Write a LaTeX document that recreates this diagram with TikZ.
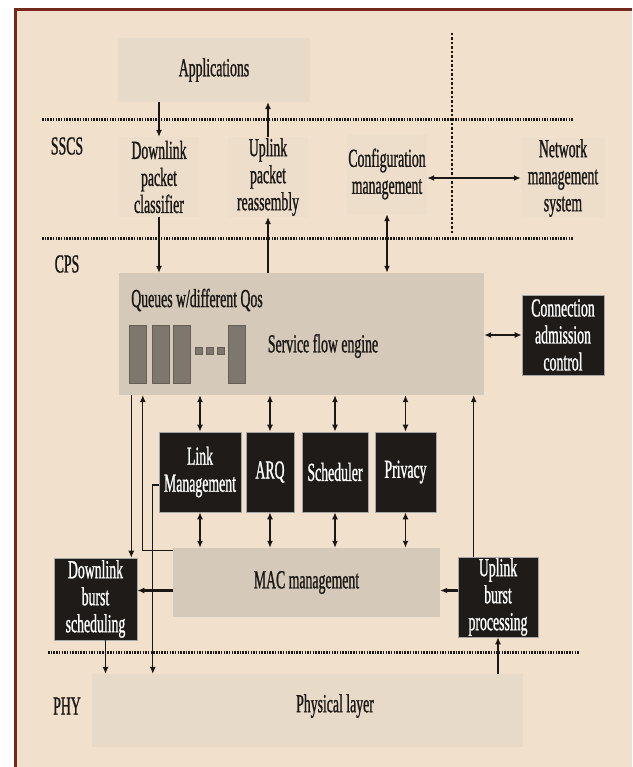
\documentclass[tikz,border=0pt]{standalone}
\usepackage{fontspec}
\setmainfont{Liberation Serif}[FakeStretch=0.53,FakeBold=0.9]
\usetikzlibrary{arrows.meta}

\definecolor{paper}{HTML}{F1E0CB}
\definecolor{frame}{HTML}{74291F}
\definecolor{faintbox}{HTML}{EDDECB}
\definecolor{softbox}{HTML}{E8DAC8}
\definecolor{greybox}{HTML}{D5CABA}
\definecolor{queuefill}{HTML}{7E776E}
\definecolor{blackbox}{HTML}{1E1B18}
\definecolor{ink}{HTML}{1A1714}

\begin{document}
\begin{tikzpicture}[x=1pt,y=-1pt,font=\fontsize{26}{27}\selectfont,
    layersep/.style={ink,line width=3pt,dash pattern=on 1.5pt off 1.2pt},
    colsep/.style={ink,line width=1.4pt,dash pattern=on 2.5pt off 2pt},
    tip/.tip={Latex[length=7pt,width=6pt]}]

      \useasboundingbox (0,0) rectangle (632,767);
      \fill[white] (0,0) rectangle (632,767);
      \fill[paper] (15,10) rectangle (632,767);
      \draw[frame,line width=3pt] (15,767) -- (15,10) -- (632,10);

      % layer separators
      \draw[layersep] (42,120) -- (573,120);
      \draw[layersep] (42,238) -- (573,238);
      \draw[layersep] (48,652) -- (579,652);
      \draw[colsep] (452,33) -- (452,233);

      \begin{scope}[every node/.style={text=ink}]
        \node (sscs)     at (67,146) {SSCS};
        \node (cps)      at (67,264) {CPS};
        \node (phylabel) at (67,706) {PHY};
      \end{scope}

      % light boxes
      \begin{scope}[every node/.style={fill=softbox,text=ink,inner sep=0pt,align=center}]
        \node[minimum width=192,minimum height=64] (apps) at (214,70) {Applications};
        \node[fill=faintbox,minimum width=80,minimum height=80] (dlclass)  at (159,177) {Downlink\\packet\\classifier};
        \node[fill=faintbox,minimum width=80,minimum height=80] (ulreasm)  at (268,177) {Uplink\\packet\\reassembly};
        \node[fill=faintbox,minimum width=80,minimum height=80] (confmgmt) at (387,174) {Configuration\\management};
        \node[fill=faintbox,minimum width=84,minimum height=80] (netmgmt)  at (563,178) {Network\\management\\system};
        \node[fill=greybox,minimum width=365,minimum height=122] (sfe) at (301.5,334) {};
        \node[fill=greybox,minimum width=267,minimum height=69] (macmgmt) at (306.5,582.5) {MAC management};
        \node[minimum width=431,minimum height=73] (phy) at (307.5,710.5) {};
      \end{scope}

      \node[text=ink] (qlabel)  at (197,300) {Queues w/different Qos};
      \node[text=ink] (sfelabel) at (323,346) {Service flow engine};
      \node[text=ink] (phytext) at (335,706) {Physical layer};

      \begin{scope}[every node/.style={fill=queuefill,draw=queuefill!80!black,inner sep=0pt}]
        \foreach \x [count=\i] in {137.5,160.5,181.5,237}
          \node[minimum width=17,minimum height=58] (queue\i) at (\x,354) {};
        \foreach \x [count=\i] in {198.5,209.5,220.5}
          \node[minimum size=7] (qdot\i) at (\x,350.5) {};
      \end{scope}

      % black boxes
      \begin{scope}[every node/.style={fill=blackbox,draw=gray!70,line width=0.6pt,text=white,inner sep=0pt,align=center,minimum height=80}]
        \node[minimum width=82] (cac)      at (563,335)   {Connection\\admission\\control};
        \node[minimum width=82] (linkmgmt) at (200,472)   {Link\\Management};
        \node[minimum width=48] (arq)      at (270,472)   {ARQ};
        \node[minimum width=66] (sched)    at (335,472)   {Scheduler};
        \node[minimum width=61] (privacy)  at (405.5,472) {Privacy};
        \node[minimum width=83,minimum height=82] (dlburst) at (95.5,599) {Downlink\\burst\\scheduling};
        \node[minimum width=80] (ulburst)  at (498,597)   {Uplink\\burst\\processing};
      \end{scope}

      \coordinate (dlin)  at ([xshift=-6pt]dlburst.north east);
      \coordinate (dlout) at ([xshift=10pt]dlburst.south);
      \coordinate (ulout) at ([xshift=16pt]ulburst.north west);
      \coordinate (macw)  at ([yshift=-8pt]macmgmt.west);
      \coordinate (mace)  at ([yshift=-8pt]macmgmt.east);

      \begin{scope}[every edge/.style={draw,ink,line width=1.1pt,-tip}]
        \path (apps.south -| dlclass) edge (dlclass.north);
        \path (ulreasm.north) edge (apps.south -| ulreasm);
        \path (dlclass.south) edge (sfe.north -| dlclass);
        \path (sfe.north -| ulreasm) edge (ulreasm.south);
        \path (sfe.south -| dlin) edge (dlin);
        \path (ulout) edge (sfe.south -| ulout);
        \path (dlout) edge (phy.north -| dlout);
        \path (phy.north -| ulburst) edge (ulburst.south);
      \end{scope}

      \begin{scope}[every edge/.style={draw,ink,line width=2.2pt,-tip}]
        \path (macw) edge (macw -| dlburst.east);
        \path (mace -| ulburst.west) edge (mace);
      \end{scope}

      \begin{scope}[every edge/.style={draw,ink,line width=1.8pt,tip-tip}]
        \path (confmgmt.south) edge (sfe.north -| confmgmt);
        \path (confmgmt.east |- netmgmt) edge (netmgmt.west);
        \path (sfe.east |- cac) edge (cac.west);
        \foreach \b in {linkmgmt,arq,sched,privacy} {
          \path (sfe.south -| \b) edge (\b.north);
          \path (\b.south) edge (macmgmt.north -| \b);
        }
      \end{scope}

      \draw[ink,line width=1.1pt,-tip] ([yshift=-3pt]macmgmt.north west) -| ([xshift=24pt]sfe.south west);
      \draw[ink,line width=1.1pt,-tip] ([yshift=-13pt]linkmgmt.west) -| ([xshift=61pt]phy.north west);

    \end{tikzpicture}
\end{document}
